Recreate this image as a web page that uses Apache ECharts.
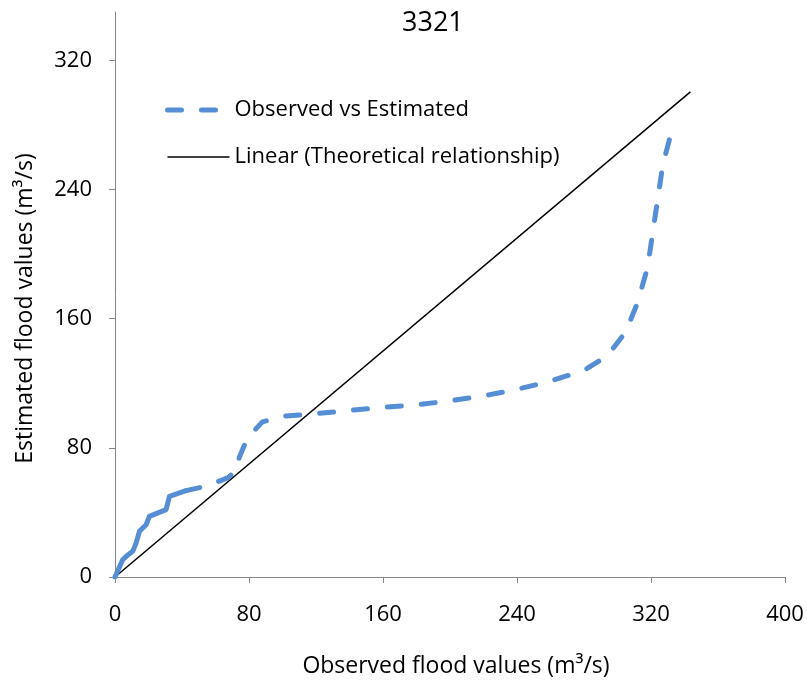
<!DOCTYPE html>
<html>
<head>
<meta charset="utf-8">
<title>3321</title>
<script src="https://cdn.jsdelivr.net/npm/echarts@6/dist/echarts.min.js"></script>
<style>
  html, body { margin: 0; padding: 0; background: #fff; }
  #chart { width: 807px; height: 686px; }
</style>
</head>
<body>
<div id="chart"></div>
<script>
// observed vs estimated flood values (m3/s)
const observed = [0, 4.6, 6.7, 10.6, 12.6, 14.6, 18.6, 20.5, 30.5, 32.5, 42.4, 54.3, 67.2, 73.1, 74.1, 79.1, 88, 101,
  118, 138, 158, 179, 199, 219, 239, 259, 280, 294, 305, 312, 318, 321, 324, 327, 332, 334]
const estimated = [0, 10.7, 12.8, 15.9, 21, 28.3, 32.4, 37.6, 41.7, 50, 53.5, 56.2, 61.4, 66.5, 73.8, 86.2, 96.1, 99.6,
  101, 103, 105, 106.5, 109, 112, 116, 121, 128, 137, 152, 170, 192, 213, 234, 255, 275, 278]
// the first points lie so close together that the dashes merge into a solid stroke
const denseCount = 11

// end points of the theoretical relationship line
const linearX = [0, 343.5]
const linearY = [0, 300.5]

const xTicks = [0, 80, 160, 240, 320, 400]
const yTicks = [0, 80, 160, 240, 320]

const font = '"Open Sans", Lato, sans-serif'
const axisColor = '#868686'
const blue = '#558ED5'
const dash = [14, 20]

const chart = echarts.init(document.getElementById('chart'))

const points = observed.map((x, i) => [x, estimated[i]])

const option = {
  animation: false,
  title: {
    text: '3321',
    left: 397,
    top: 5,
    textStyle: {
      fontFamily: font,
      fontSize: 27,
      fontWeight: 'normal',
      color: '#000'
    }
  },
  grid: {
    left: 115,
    right: 22,
    top: 12,
    bottom: 109
  },
  legend: {
    orient: 'vertical',
    left: 160,
    top: 94,
    itemWidth: 62,
    itemHeight: 14,
    itemGap: 25,
    itemStyle: { opacity: 0 },
    textStyle: {
      fontFamily: font,
      fontSize: 22,
      color: '#000'
    },
    data: [
      { name: 'Observed vs Estimated', lineStyle: { width: 5, type: dash, cap: 'round' } },
      { name: 'Linear (Theoretical relationship)', lineStyle: { width: 1.5 } }
    ]
  },
  xAxis: {
    type: 'value',
    min: 0,
    max: 400,
    interval: 80,
    name: 'Observed flood values (m³/s)',
    nameLocation: 'middle',
    nameGap: 78,
    nameTextStyle: { fontFamily: font, fontSize: 23, color: '#000', padding: [0, 0, 0, 12] },
    splitLine: { show: false },
    axisLine: { lineStyle: { color: axisColor, width: 1 } },
    axisTick: { inside: false, length: 6, lineStyle: { color: axisColor } },
    axisLabel: {
      margin: 27,
      fontFamily: font,
      fontSize: 22,
      color: '#000',
      customValues: xTicks
    }
  },
  yAxis: {
    type: 'value',
    min: 0,
    max: 350,
    interval: 80,
    name: 'Estimated flood values (m³/s)',
    nameLocation: 'middle',
    nameGap: 78,
    nameTextStyle: {
      fontFamily: font,
      fontSize: 23,
      color: '#000',
      padding: [0, 28, 0, 0]
    },
    splitLine: { show: false },
    axisLine: { show: true, lineStyle: { color: axisColor, width: 1 } },
    axisTick: { show: true, inside: false, length: 6, lineStyle: { color: axisColor }, customValues: yTicks },
    axisLabel: {
      margin: 23,
      fontFamily: font,
      fontSize: 22,
      color: '#000',
      customValues: yTicks
    }
  },
  series: [
    {
      name: 'Observed vs Estimated',
      type: 'line',
      symbol: 'none',
      data: points.slice(denseCount - 1),
      lineStyle: {
        color: blue,
        width: 5,
        type: dash,
        cap: 'round',
        join: 'round'
      },
      itemStyle: { color: blue },
      z: 3
    },
    {
      name: 'Observed vs Estimated',
      type: 'line',
      symbol: 'none',
      data: points.slice(0, denseCount),
      lineStyle: { color: blue, width: 5, cap: 'round', join: 'round' },
      itemStyle: { color: blue },
      z: 3
    },
    {
      name: 'Linear (Theoretical relationship)',
      type: 'line',
      symbol: 'none',
      data: linearX.map((x, i) => [x, linearY[i]]),
      lineStyle: { color: '#000', width: 1.5 },
      itemStyle: { color: '#000' },
      z: 2
    }
  ]
}

chart.setOption(option)
</script>
</body>
</html>
